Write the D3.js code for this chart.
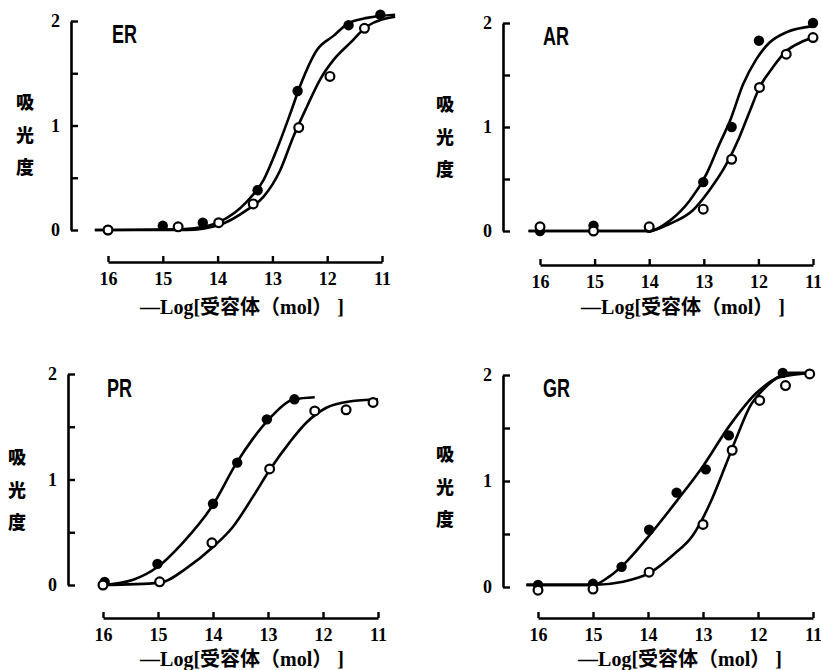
<!DOCTYPE html>
<html>
<head>
<meta charset="utf-8">
<script src="https://cdn.jsdelivr.net/npm/d3@7/dist/d3.min.js"></script>
<style>
body { margin: 0; background: #fff; }
</style>
</head>
<body>
<svg id="chart" width="821" height="670"></svg>
<script>
var xTicks = [16, 15, 14, 13, 12, 11];
var yTicks = [0, 0.5, 1, 1.5, 2];
var yLabelChars = ['吸', '光', '度'];
var xTitle = '—Log[受容体（mol） ]';

// measured points [ -log conc , absorbance ]
var erFilled = [[16, 0], [15, 0.04], [14.27, 0.07], [13.27, 0.38], [12.54, 1.33], [11.61, 1.96], [11.03, 2.06]];
var erOpen = [[16, 0], [14.72, 0.03], [13.98, 0.07], [13.35, 0.25], [12.52, 0.98], [11.95, 1.47], [11.32, 1.93]];
var erFilledCurve = [[16.24, 0], [14.6, 0.01], [14.26, 0.03], [13.96, 0.08], [13.47, 0.27], [13.16, 0.48], [12.92, 0.77], [12.67, 1.12], [12.5, 1.37], [12.19, 1.72], [11.88, 1.86], [11.61, 1.98], [11.27, 2.03], [10.76, 2.06]];
var erOpenCurve = [[16.24, 0], [14.57, 0], [13.96, 0.05], [13.47, 0.19], [13.16, 0.32], [12.86, 0.57], [12.62, 0.89], [12.37, 1.18], [12.13, 1.44], [11.88, 1.63], [11.58, 1.79], [11.27, 1.95], [10.76, 2.04]];

var arFilled = [[16, 0], [15.02, 0.05], [14, 0.03], [13.01, 0.47], [12.49, 1.0], [11.99, 1.83], [11, 2.0]];
var arOpen = [[16, 0.04], [15.02, 0], [14, 0.04], [13.01, 0.21], [12.49, 0.69], [11.98, 1.38], [11.49, 1.7], [11, 1.86]];
var arFilledCurve = [[16.21, 0], [14, 0], [13.62, 0.1], [13.26, 0.29], [12.95, 0.55], [12.71, 0.84], [12.52, 1.06], [12.28, 1.41], [12.04, 1.65], [11.8, 1.81], [11.49, 1.91], [11, 1.97]];
var arOpenCurve = [[16.21, 0], [14, 0], [13.62, 0.07], [13.2, 0.2], [12.9, 0.39], [12.59, 0.64], [12.35, 0.9], [12.16, 1.15], [11.98, 1.38], [11.74, 1.57], [11.49, 1.73], [11.24, 1.81], [11, 1.86]];

var prFilled = [[15.97, 0.03], [15.01, 0.2], [14, 0.77], [13.56, 1.16], [13.02, 1.57], [12.52, 1.76]];
var prOpen = [[16, 0], [14.97, 0.03], [14.02, 0.4], [12.97, 1.1], [12.15, 1.65], [11.58, 1.66], [11.09, 1.73]];
var prFilledCurve = [[16, 0], [15.45, 0.05], [15.01, 0.17], [14.55, 0.4], [14, 0.76], [13.58, 1.15], [13.27, 1.39], [12.97, 1.58], [12.52, 1.76], [12.15, 1.78]];
var prOpenCurve = [[16, 0], [14.97, 0.02], [14.48, 0.16], [14, 0.36], [13.64, 0.55], [13.27, 0.84], [12.97, 1.09], [12.61, 1.35], [12.3, 1.54], [11.94, 1.68], [11.52, 1.74], [11, 1.76]];

var grFilled = [[16, 0.02], [15, 0.03], [14.48, 0.19], [13.98, 0.54], [13.48, 0.89], [12.95, 1.11], [12.53, 1.43], [11.55, 2.02]];
var grOpen = [[16, -0.03], [15, -0.02], [13.98, 0.14], [13, 0.59], [12.47, 1.29], [11.97, 1.76], [11.5, 1.9], [11.06, 2.01]];
var grFilledCurve = [[16.21, 0.02], [15, 0.02], [14.7, 0.1], [14.39, 0.24], [13.97, 0.49], [13.48, 0.81], [13, 1.14], [12.52, 1.52], [12.03, 1.83], [11.67, 1.97], [11.42, 2.02], [11, 2.02]];
var grOpenCurve = [[16.21, 0.02], [15, 0.02], [14.45, 0.05], [13.98, 0.13], [13.55, 0.3], [13.18, 0.49], [12.88, 0.78], [12.58, 1.16], [12.39, 1.41], [12.15, 1.7], [11.91, 1.86], [11.61, 1.98], [11, 2.02]];

// panel placement on the page
var panels = [
	{name: 'ER', filled: erFilled, open: erOpen, fCurve: erFilledCurve, oCurve: erOpenCurve,
	 x16: 108, x11: 382, yAx: 71, yBot: 230, yTop: 21, xAxY: 262, lab: [112, 43], title: [242, 314], yl: [25, 103]},
	{name: 'AR', filled: arFilled, open: arOpen, fCurve: arFilledCurve, oCurve: arOpenCurve,
	 x16: 540, x11: 813, yAx: 503, yBot: 231, yTop: 23, xAxY: 265, lab: [543, 45], title: [683, 314], yl: [445, 105]},
	{name: 'PR', filled: prFilled, open: prOpen, fCurve: prFilledCurve, oCurve: prOpenCurve,
	 x16: 103, x11: 378, yAx: 68, yBot: 585, yTop: 374, xAxY: 618, lab: [107, 397], title: [242, 666], yl: [17, 458]},
	{name: 'GR', filled: grFilled, open: grOpen, fCurve: grFilledCurve, oCurve: grOpenCurve,
	 x16: 538, x11: 813, yAx: 503, yBot: 587, yTop: 375, xAxY: 618, lab: [543, 397], title: [680, 666], yl: [445, 455]}
];

var svg = d3.select('#chart');
var serif = '"Liberation Serif", "Times New Roman", "Noto Sans CJK JP", serif';
var cjk = '"Noto Sans CJK JP", "Noto Sans CJK SC", sans-serif';

panels.forEach(function(p) {
	var x = d3.scaleLinear().domain([16, 11]).range([p.x16, p.x11]);
	var y = d3.scaleLinear().domain([0, 2]).range([p.yBot, p.yTop]);
	var g = svg.append('g');

	// y axis, ticks pointing into the plot
	var yAxis = d3.axisLeft(y).tickValues(yTicks).tickSizeInner(-7).tickSizeOuter(0).tickPadding(11)
		.tickFormat(function(d) { return d % 1 === 0 ? d : ''; });
	var ya = g.append('g').attr('transform', 'translate(' + p.yAx + ',0)').call(yAxis);

	// x axis, detached below the plot
	var xAxis = d3.axisBottom(x).tickValues(xTicks).tickSizeInner(-6).tickSizeOuter(0).tickPadding(10)
		.tickFormat(d3.format('d'));
	var xa = g.append('g').attr('transform', 'translate(0,' + p.xAxY + ')').call(xAxis);

	[ya, xa].forEach(function(a) {
		a.attr('font-size', null).attr('font-family', null);
		a.select('.domain').attr('stroke', '#000').attr('stroke-width', 2.6);
		a.selectAll('.tick line').attr('stroke', '#000').attr('stroke-width', 2.4);
		a.selectAll('.tick text').attr('fill', '#000').style('font-family', serif)
			.style('font-weight', 'bold').style('font-size', '18px');
	});

	var line = d3.line()
		.x(function(d) { return x(d[0]); })
		.y(function(d) { return y(d[1]); })
		.curve(d3.curveMonotoneX);

	[p.fCurve, p.oCurve].forEach(function(c) {
		g.append('path').attr('d', line(c))
			.attr('fill', 'none').attr('stroke', '#000').attr('stroke-width', 2.6);
	});

	g.selectAll('.fdot').data(p.filled).enter().append('circle')
		.attr('cx', function(d) { return x(d[0]); })
		.attr('cy', function(d) { return y(d[1]); })
		.attr('r', 5.2).attr('fill', '#000');

	g.selectAll('.odot').data(p.open).enter().append('circle')
		.attr('cx', function(d) { return x(d[0]); })
		.attr('cy', function(d) { return y(d[1]); })
		.attr('r', 4.4).attr('fill', '#fff').attr('stroke', '#000').attr('stroke-width', 2.2);

	// panel name, condensed
	g.append('text').attr('transform', 'translate(' + p.lab[0] + ',' + p.lab[1] + ') scale(0.72,1)')
		.text(p.name)
		.style('font-family', '"Liberation Sans", sans-serif')
		.style('font-weight', 'bold').style('font-size', '25px');

	// vertical y label
	g.selectAll('.yl').data(yLabelChars).enter().append('text')
		.attr('x', p.yl[0]).attr('y', function(d, i) { return p.yl[1] + i * 32.5; })
		.attr('text-anchor', 'middle').attr('dy', '0.35em')
		.style('font-family', cjk).style('font-weight', '900').style('font-size', '18px')
		.text(function(d) { return d; });

	// x title
	g.append('text').attr('x', p.title[0]).attr('y', p.title[1]).attr('text-anchor', 'middle')
		.style('font-family', serif).style('font-weight', 'bold').style('font-size', '20px')
		.text(xTitle);
});
</script>
</body>
</html>
